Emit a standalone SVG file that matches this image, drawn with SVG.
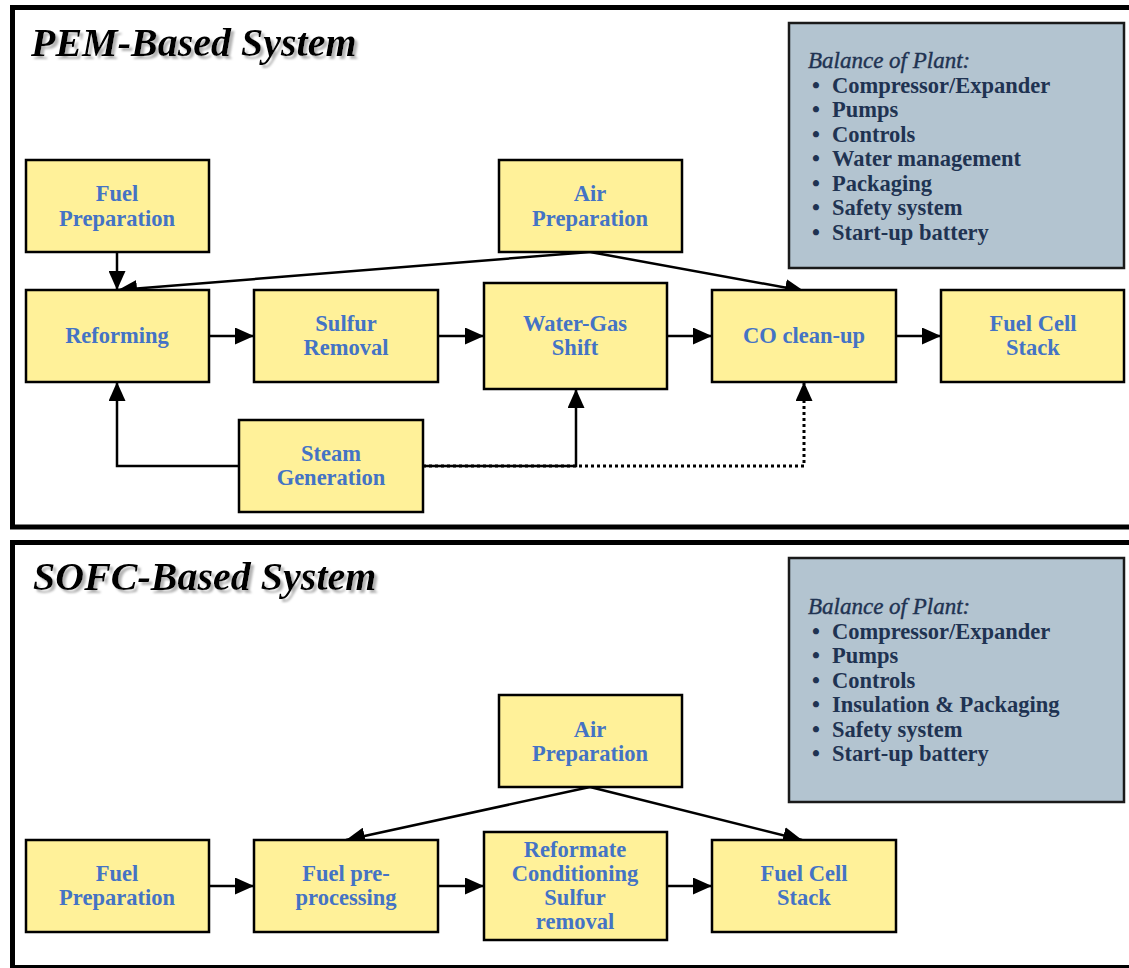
<svg xmlns="http://www.w3.org/2000/svg" width="1129" height="968" viewBox="0 0 1129 968">
<defs>
<style>
.frame{fill:#fff;stroke:#000;stroke-width:5}
.node{fill:#FFF199;stroke:#000;stroke-width:2.5}
.bop{fill:#B3C4D0;stroke:#1a1a1a;stroke-width:2.5}
.nt{font-family:"Liberation Serif","Times New Roman",serif;font-weight:bold;font-size:22.5px;fill:#4473C5;text-anchor:middle}
.bt{font-family:"Liberation Serif","Times New Roman",serif;font-weight:bold;font-size:22.5px;fill:#1F3352}
.bh{font-family:"Liberation Serif","Times New Roman",serif;font-style:italic;font-size:23px;fill:#1F3352;stroke:#1F3352;stroke-width:0.4}
.title{font-family:"Liberation Serif","Times New Roman",serif;font-weight:bold;font-style:italic;font-size:40px;fill:#000}
.ln{fill:none;stroke:#000;stroke-width:2.5}
.dot{fill:none;stroke:#000;stroke-width:3;stroke-dasharray:3 3}
</style>
<filter id="shadow" x="-5%" y="-20%" width="112%" height="150%">
<feGaussianBlur in="SourceAlpha" stdDeviation="0.8" result="b"/>
<feOffset in="b" dx="2.5" dy="2.5" result="o"/>
<feFlood flood-color="#b4b4b4"/>
<feComposite in2="o" operator="in" result="s"/>
<feMerge><feMergeNode in="s"/><feMergeNode in="SourceGraphic"/></feMerge>
</filter>
<marker id="ah" markerUnits="userSpaceOnUse" markerWidth="19" markerHeight="17" refX="19" refY="8.5" orient="auto" viewBox="0 0 19 17">
<path d="M0,0 L19,8.5 L0,17 z" fill="#000" stroke="none"/>
</marker>
</defs>
<rect width="1129" height="968" fill="#fff"/>
<g id="pem-panel">
<rect class="frame" x="12.5" y="7.5" width="1130" height="519.5"/>
<text class="title" x="31" y="56" filter="url(#shadow)">PEM-Based System</text>
</g>
<g id="sofc-panel">
<rect class="frame" x="12.5" y="542.5" width="1130" height="425"/>
<text class="title" x="33" y="590" filter="url(#shadow)">SOFC-Based System</text>
</g>
<g id="connectors">
<line class="ln" x1="117" y1="252" x2="117" y2="290" marker-end="url(#ah)"/>
<line class="ln" x1="590" y1="252" x2="118" y2="290" marker-end="url(#ah)"/>
<line class="ln" x1="590" y1="252" x2="804" y2="291" marker-end="url(#ah)"/>
<line class="ln" x1="209" y1="336" x2="254" y2="336" marker-end="url(#ah)"/>
<line class="ln" x1="438" y1="336" x2="484" y2="336" marker-end="url(#ah)"/>
<line class="ln" x1="667" y1="336" x2="712" y2="336" marker-end="url(#ah)"/>
<line class="ln" x1="896" y1="336" x2="941" y2="336" marker-end="url(#ah)"/>
<path class="ln" d="M239,466 H117 V382" marker-end="url(#ah)"/>
<path class="ln" d="M423,466 H576 V389" marker-end="url(#ah)"/>
<path class="dot" d="M423,466 H804 V382" marker-end="url(#ah)"/>
<line class="ln" x1="209" y1="886" x2="254" y2="886" marker-end="url(#ah)"/>
<line class="ln" x1="438" y1="886" x2="484" y2="886" marker-end="url(#ah)"/>
<line class="ln" x1="667" y1="886" x2="712" y2="886" marker-end="url(#ah)"/>
<line class="ln" x1="590" y1="787" x2="346" y2="840" marker-end="url(#ah)"/>
<line class="ln" x1="590" y1="787" x2="802" y2="840" marker-end="url(#ah)"/>
</g>
<g id="pem-fuel-prep"><rect class="node" x="26" y="160" width="183" height="92"/><text class="nt" x="117" y="201">Fuel</text><text class="nt" x="117" y="226">Preparation</text></g>
<g id="pem-air-prep"><rect class="node" x="499" y="160" width="183" height="92"/><text class="nt" x="590" y="201">Air</text><text class="nt" x="590" y="226">Preparation</text></g>
<g id="pem-reforming"><rect class="node" x="26" y="290" width="183" height="92"/><text class="nt" x="117" y="343">Reforming</text></g>
<g id="pem-sulfur"><rect class="node" x="254" y="290" width="184" height="92"/><text class="nt" x="346" y="331">Sulfur</text><text class="nt" x="346" y="355">Removal</text></g>
<g id="pem-wgs"><rect class="node" x="484" y="283" width="183" height="106"/><text class="nt" x="575" y="331">Water-Gas</text><text class="nt" x="575" y="355">Shift</text></g>
<g id="pem-co"><rect class="node" x="712" y="290" width="184" height="92"/><text class="nt" x="804" y="343">CO clean-up</text></g>
<g id="pem-fcs"><rect class="node" x="941" y="290" width="183" height="92"/><text class="nt" x="1033" y="331">Fuel Cell</text><text class="nt" x="1033" y="355">Stack</text></g>
<g id="pem-steam"><rect class="node" x="239" y="420" width="184" height="92"/><text class="nt" x="331" y="461">Steam</text><text class="nt" x="331" y="485">Generation</text></g>
<g id="pem-bop"><rect class="bop" x="789" y="23" width="335" height="245"/>
<text class="bh" x="808" y="68">Balance of Plant:</text>
<text class="bt" x="812" y="92.5">•</text><text class="bt" x="832" y="92.5">Compressor/Expander</text>
<text class="bt" x="812" y="117">•</text><text class="bt" x="832" y="117">Pumps</text>
<text class="bt" x="812" y="141.5">•</text><text class="bt" x="832" y="141.5">Controls</text>
<text class="bt" x="812" y="166">•</text><text class="bt" x="832" y="166">Water management</text>
<text class="bt" x="812" y="190.5">•</text><text class="bt" x="832" y="190.5">Packaging</text>
<text class="bt" x="812" y="215">•</text><text class="bt" x="832" y="215">Safety system</text>
<text class="bt" x="812" y="239.5">•</text><text class="bt" x="832" y="239.5">Start-up battery</text>
</g>
<g id="sofc-air-prep"><rect class="node" x="499" y="695" width="183" height="92"/><text class="nt" x="590" y="737">Air</text><text class="nt" x="590" y="761">Preparation</text></g>
<g id="sofc-fuel-prep"><rect class="node" x="26" y="840" width="183" height="92"/><text class="nt" x="117" y="881">Fuel</text><text class="nt" x="117" y="905">Preparation</text></g>
<g id="sofc-preproc"><rect class="node" x="254" y="840" width="184" height="92"/><text class="nt" x="346" y="881">Fuel pre-</text><text class="nt" x="346" y="905">processing</text></g>
<g id="sofc-reformate"><rect class="node" x="484" y="832" width="183" height="108"/><text class="nt" x="575" y="857">Reformate</text><text class="nt" x="575" y="881">Conditioning</text><text class="nt" x="575" y="905">Sulfur</text><text class="nt" x="575" y="929">removal</text></g>
<g id="sofc-fcs"><rect class="node" x="712" y="840" width="184" height="92"/><text class="nt" x="804" y="881">Fuel Cell</text><text class="nt" x="804" y="905">Stack</text></g>
<g id="sofc-bop"><rect class="bop" x="789" y="558" width="335" height="244"/>
<text class="bh" x="808" y="614">Balance of Plant:</text>
<text class="bt" x="812" y="638.5">•</text><text class="bt" x="832" y="638.5">Compressor/Expander</text>
<text class="bt" x="812" y="663">•</text><text class="bt" x="832" y="663">Pumps</text>
<text class="bt" x="812" y="687.5">•</text><text class="bt" x="832" y="687.5">Controls</text>
<text class="bt" x="812" y="712">•</text><text class="bt" x="832" y="712">Insulation &amp; Packaging</text>
<text class="bt" x="812" y="736.5">•</text><text class="bt" x="832" y="736.5">Safety system</text>
<text class="bt" x="812" y="761">•</text><text class="bt" x="832" y="761">Start-up battery</text>
</g>
</svg>
